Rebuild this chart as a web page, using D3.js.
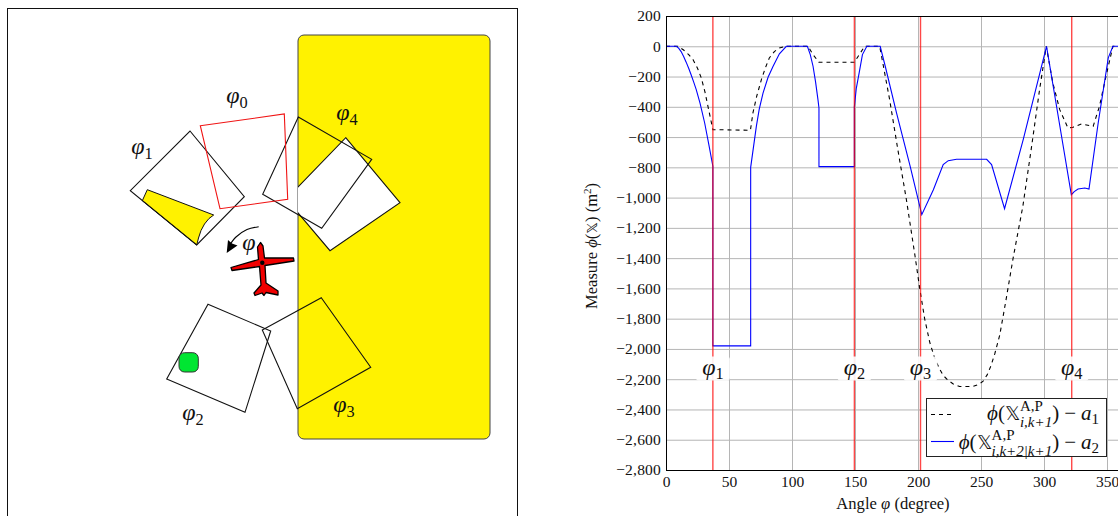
<!DOCTYPE html>
<html>
<head>
<meta charset="utf-8">
<script src="https://cdn.jsdelivr.net/npm/d3@7"></script>
<style>
  html, body { margin: 0; padding: 0; background: #fff; overflow: hidden; }
  svg { display: block; }
  text { font-family: "Liberation Serif", serif; fill: #111; }
  .grid line { stroke: #b5b5b5; stroke-width: 1; }
  .grid .domain { display: none; }
  .grid text { font-size: 15.5px; }
</style>
</head>
<body>
<svg id="chart" width="1118" height="516"></svg>
<script>
// chart values
const xTicks = [0, 50, 100, 150, 200, 250, 300, 350];
const yTicks = [200, 0, -200, -400, -600, -800, -1000, -1200, -1400, -1600, -1800, -2000, -2200, -2400, -2600, -2800];

const angleA1 = [0, 9.5, 14, 18, 21.4, 25, 28, 31, 33.3, 37.2, 67, 69, 72, 75.7, 79, 82, 86, 90, 95.5, 112.7, 116.7, 121.4, 149.5, 153, 157.7, 169.6, 177.5, 184, 190.8, 197.7, 201.4, 205.3, 209.3, 213, 217, 220, 224, 228, 233, 243.6, 248, 251.5, 255, 258, 261, 264.8, 267, 270, 275.4, 283.2, 289.8, 296.5, 301.8, 307, 312.5, 319, 323, 329.7, 339, 344, 349.5, 354.7, 360];
const measureA1 = [0, 0, -25, -55, -88, -145, -209, -305, -397, -551, -555, -440, -330, -220, -140, -77, -35, -11, 0, 0, -55, -106, -106, -60, 0, 0, -353, -683, -1014, -1389, -1602, -1801, -1955, -2055, -2131, -2175, -2208, -2232, -2248, -2248, -2235, -2215, -2170, -2109, -2030, -1911, -1810, -1669, -1404, -1058, -683, -286, 0, -242, -419, -540, -535, -513, -529, -397, -187, 0, 0];

const angleA2 = [0, 8.2, 10, 12, 14, 16, 18, 20, 22, 24, 27, 30.7, 34, 37.2, 37.2, 67.2, 67.2, 71.7, 74, 77, 81, 85, 90, 95.5, 112.2, 114.5, 116.7, 118.7, 120.6, 121.4, 121.4, 149.5, 149.5, 151, 153.3, 155.9, 159.4, 170, 174, 183, 193.8, 203, 212.2, 220, 224, 230.6, 254.5, 258.4, 268.7, 283.5, 302, 321.7, 324, 327, 332.4, 335.7, 343, 351, 354.7, 360];
const measureA2 = [0, 0, -12, -35, -68, -105, -145, -190, -237, -287, -375, -507, -650, -793, -1980, -1980, -800, -529, -415, -309, -205, -132, -50, 0, 0, -55, -132, -235, -353, -408, -795, -795, -400, -280, -176, -55, 0, 0, -132, -441, -793, -1113, -948, -782, -756, -747, -747, -782, -1073, -617, 0, -981, -960, -943, -937, -943, -507, -77, 0, 0];

const eventNames = ["1", "2", "3", "4"];
const eventAngles = [37.2, 149.5, 202, 322];
const eventLabelValue = -2130;

// scene polygons of the left drawing
const regionBox = [[298, 35], [490, 439]];
const viewPhi0 = [[200.3, 125.7], [284.3, 114], [287.7, 199.3], [220, 208.7]];
const viewPhi1 = [[190, 131], [244.3, 196.7], [196.7, 245], [130.3, 190.7]];
const viewPhi1Patch = [[147.3, 189.7], [213.7, 215], [209, 218.5], [204.5, 224], [201, 230.5], [198.5, 238], [196.7, 245], [142.3, 200.7]];
const viewPhi2 = [[208, 304.3], [270.7, 331], [245, 412.3], [166.7, 379]];
const viewPhi3 = [[321.3, 297.7], [370.7, 367.3], [297.3, 408.7], [262.3, 330]];
const viewPhi4a = [[298.3, 117], [371.7, 159.3], [321.7, 228.3], [262.7, 194.3]];
const viewPhi4b = [[345.7, 137.7], [400, 202.7], [330, 250.7], [286.3, 199]];
const planeOutline = [[260.5, 242.5], [263, 246], [264.5, 258], [293.5, 258], [294, 261], [265, 265.5], [266, 283], [278, 291], [278, 295], [266, 292.5], [264, 295.5], [262, 293], [255, 295.5], [254, 293], [261, 285], [259.5, 266.5], [232, 270.5], [231, 267.5], [258.5, 259.5], [257.5, 247]];
const planeCentre = [262.3, 262.7];
const turnArc = [[258.7, 226.7], [247, 229.5], [236, 237], [229, 246]];
const turnHead = [[226.7, 253], [228, 240], [232, 243.5], [237.5, 245.5]];
const targetBox = [[179, 352.7], [198.3, 372]];
const sceneLabels = [["0", 237, 103], ["1", 142, 154], ["2", 193, 420], ["3", 344, 412], ["4", 347, 120]];

const svg = d3.select("#chart");

// ---- left drawing ----
const sx = d3.scaleIdentity().domain([0, 1118]);
const sy = d3.scaleIdentity().domain([0, 516]);
const poly = d3.line().x(d => sx(d[0])).y(d => sy(d[1]));
const closed = pts => poly(pts) + "Z";

svg.append("rect").attr("x", 7.5).attr("y", 8.5).attr("width", 510).attr("height", 530)
  .attr("fill", "none").attr("stroke", "#111").attr("stroke-width", 1);

const clip = svg.append("clipPath").attr("id", "regionClip");
clip.append("rect").attr("x", sx(regionBox[0][0])).attr("y", sy(regionBox[0][1]))
  .attr("width", sx(regionBox[1][0]) - sx(regionBox[0][0])).attr("height", sy(regionBox[1][1]) - sy(regionBox[0][1]));

svg.append("rect").attr("x", sx(regionBox[0][0])).attr("y", sy(regionBox[0][1]))
  .attr("width", sx(regionBox[1][0]) - sx(regionBox[0][0])).attr("height", sy(regionBox[1][1]) - sy(regionBox[0][1]))
  .attr("rx", 6).attr("fill", "#fff200").attr("stroke", "#444").attr("stroke-width", 1);

svg.append("path").attr("d", closed(viewPhi4b)).attr("clip-path", "url(#regionClip)")
  .attr("fill", "#fff").attr("stroke", "#111").attr("stroke-width", 1.1);

svg.append("path").attr("d", closed(viewPhi1Patch)).attr("fill", "#fff200").attr("stroke", "#111").attr("stroke-width", 1);

[viewPhi1, viewPhi2, viewPhi3, viewPhi4a].forEach(p => {
  svg.append("path").attr("d", closed(p)).attr("fill", "none").attr("stroke", "#111").attr("stroke-width", 1.1);
});
svg.append("path").attr("d", closed(viewPhi0)).attr("fill", "none").attr("stroke", "#f01414").attr("stroke-width", 1.1);

svg.append("rect").attr("x", sx(targetBox[0][0])).attr("y", sy(targetBox[0][1]))
  .attr("width", sx(targetBox[1][0]) - sx(targetBox[0][0])).attr("height", sy(targetBox[1][1]) - sy(targetBox[0][1]))
  .attr("rx", 5.5).attr("fill", "#00e632").attr("stroke", "#333").attr("stroke-width", 1);

svg.append("path").attr("d", closed(planeOutline)).attr("fill", "#f00000").attr("stroke", "#000")
  .attr("stroke-width", 1.3).attr("stroke-linejoin", "round");
svg.append("circle").attr("cx", sx(planeCentre[0])).attr("cy", sy(planeCentre[1])).attr("r", 2.2).attr("fill", "#000");

svg.append("path").attr("d", d3.line().x(d => sx(d[0])).y(d => sy(d[1])).curve(d3.curveCatmullRom)(turnArc))
  .attr("fill", "none").attr("stroke", "#000").attr("stroke-width", 1.1);
svg.append("path").attr("d", closed(turnHead)).attr("fill", "#000");

// phi with an optional index
function phiLabel(sel, x, y, index, size) {
  const t = sel.append("text").attr("x", x).attr("y", y).attr("text-anchor", "middle");
  t.append("tspan").attr("font-style", "italic").attr("font-size", size).text("φ");
  if (index) t.append("tspan").attr("font-size", size * 0.68).attr("dy", size * 0.2).text(index);
  return t;
}
sceneLabels.forEach(d => phiLabel(svg, d[1], d[2], d[0], 24));
phiLabel(svg, 249, 250, null, 24);

// ---- right chart ----
const x = d3.scaleLinear().domain([0, 360]).range([666, 1119.6]);
const y = d3.scaleLinear().domain([-2800, 200]).range([470, 16]);
const h = y(-2800) - y(200);
const w = x(360) - x(0);
const fmt = d3.format(",");

const axisY = svg.append("g").attr("class", "grid").attr("transform", `translate(${x(0)},0)`)
  .call(d3.axisLeft(y).tickValues(yTicks).tickSize(-w).tickPadding(5).tickFormat(d => fmt(d).replace("-", "−")));
axisY.selectAll("text").attr("fill", "#111").attr("letter-spacing", 0.2);

const axisX = svg.append("g").attr("class", "grid").attr("transform", `translate(0,${y(-2800)})`)
  .call(d3.axisBottom(x).tickValues(xTicks).tickSize(-h).tickPadding(6));
axisX.selectAll("text").attr("fill", "#111");

const lineA1 = d3.line().x((d, i) => x(angleA1[i])).y(d => y(d));
const lineA2 = d3.line().x((d, i) => x(angleA2[i])).y(d => y(d));

svg.append("path").attr("d", lineA1(measureA1)).attr("fill", "none").attr("stroke", "#000")
  .attr("stroke-width", 1.1).attr("stroke-dasharray", "4,4");
svg.append("path").attr("d", lineA2(measureA2)).attr("fill", "none").attr("stroke", "#0000ff").attr("stroke-width", 1.1);

svg.selectAll(".event").data(eventAngles).join("line").attr("class", "event")
  .attr("x1", d => x(d)).attr("x2", d => x(d)).attr("y1", y(200)).attr("y2", y(-2800))
  .attr("stroke", "#ff0000").attr("stroke-opacity", 0.72).attr("stroke-width", 1.4);

// frame
svg.append("rect").attr("x", x(0) + 0.5).attr("y", y(200) + 0.5).attr("width", w).attr("height", h)
  .attr("fill", "none").attr("stroke", "#000").attr("stroke-width", 1);

eventAngles.forEach((a, i) => {
  svg.append("rect").attr("x", x(a) - 17).attr("y", y(eventLabelValue) - 12)
    .attr("width", 34).attr("height", 24).attr("rx", 3).attr("fill", "#fff").attr("fill-opacity", 0.9);
  phiLabel(svg, x(a), y(eventLabelValue) + 6, eventNames[i], 24);
});

// axis titles
const xt = svg.append("text").attr("x", 893).attr("y", 509).attr("text-anchor", "middle").attr("font-size", 16.6);
xt.append("tspan").text("Angle ");
xt.append("tspan").attr("font-style", "italic").text("φ");
xt.append("tspan").text(" (degree)");

const yt = svg.append("text").attr("transform", "translate(597,246) rotate(-90)").attr("text-anchor", "middle").attr("font-size", 16.6);
yt.append("tspan").text("Measure ");
yt.append("tspan").attr("font-style", "italic").text("ϕ");
yt.append("tspan").text("(");
yt.append("tspan").attr("font-family", "DejaVu Sans").attr("font-size", 14.5).text("𝕏");
yt.append("tspan").text(") (m");
yt.append("tspan").attr("font-size", 11).attr("dy", -6).text("2");
yt.append("tspan").attr("dy", 6).text(")");

// legend
const legend = svg.append("g");
legend.append("rect").attr("x", 926.5).attr("y", 398.5).attr("width", 180).attr("height", 58)
  .attr("fill", "#fff").attr("stroke", "#222").attr("stroke-width", 1);
legend.append("line").attr("x1", 931).attr("x2", 952).attr("y1", 414.5).attr("y2", 414.5)
  .attr("stroke", "#000").attr("stroke-dasharray", "4,4").attr("stroke-width", 1.1);
legend.append("line").attr("x1", 931).attr("x2", 954).attr("y1", 441.5).attr("y2", 441.5)
  .attr("stroke", "#0000ff").attr("stroke-width", 1.1);

// lays the formula out left to right, then pushes it against rightX
function legendEntry(rightX, base, subText, idx) {
  const g = legend.append("g");
  let cx = 0;
  const put = (s, size, dy, style, family) => {
    const t = g.append("text").attr("x", cx).attr("y", dy).attr("font-size", size).text(s);
    if (style) t.attr("font-style", style);
    if (family) t.attr("font-family", family);
    return t.node().getComputedTextLength();
  };
  cx += put("ϕ", 21, 0, "italic");
  cx += put("(", 21, 0);
  cx += put("𝕏", 19, 0, null, "DejaVu Sans");
  const sup = put("A,P", 15, -9);
  const sub = put(subText, 15, 6.5, "italic");
  cx += Math.max(sup, sub);
  cx += put(")", 21, 0);
  cx += 5;
  cx += put("−", 21, 0);
  cx += 5;
  cx += put("a", 21, 0, "italic");
  cx += put(idx, 15, 3.5);
  g.attr("transform", `translate(${rightX - cx},${base})`);
}
legendEntry(1099, 420, "i,k+1", "1");
legendEntry(1099, 449, "i,k+2|k+1", "2");
</script>
</body>
</html>
